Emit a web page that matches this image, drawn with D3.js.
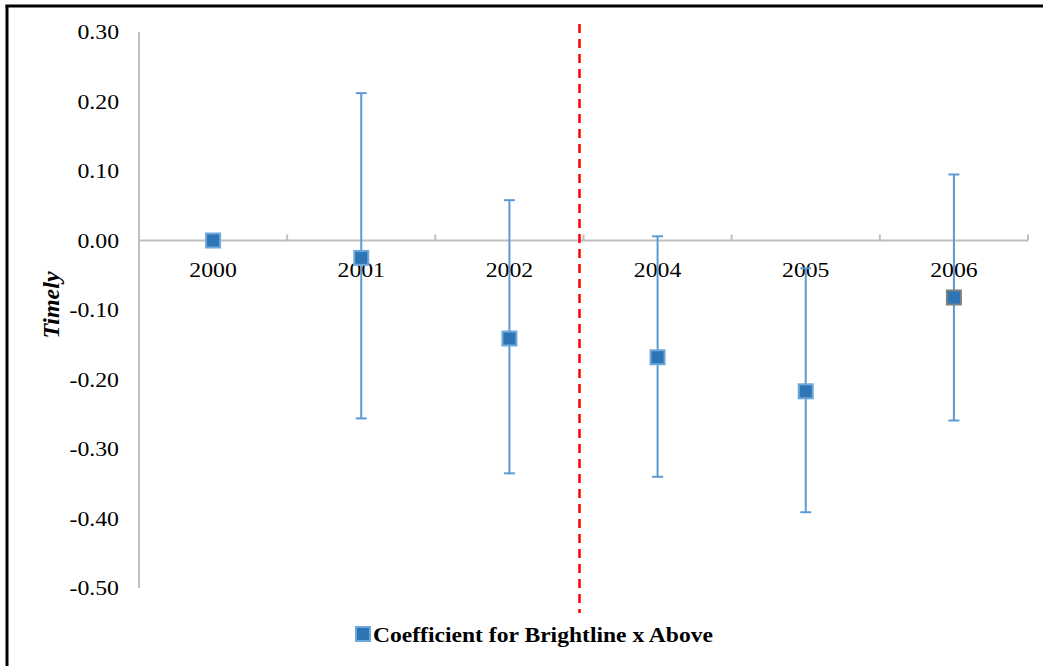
<!DOCTYPE html>
<html><head><meta charset="utf-8">
<script src="https://cdn.jsdelivr.net/npm/d3@7"></script>
<style>
html,body{margin:0;padding:0;background:#fff;}
svg{display:block;}
text{font-family:"Liberation Serif","Times New Roman",serif;}
</style></head>
<body>
<script>
const years = ["2000","2001","2002","2004","2005","2006"];
const coef  = [0.000, -0.025, -0.141, -0.168, -0.217, -0.082];
const upper = [0.000, 0.212, 0.058, 0.006, -0.040, 0.095];
const lower = [0.000, -0.256, -0.335, -0.340, -0.391, -0.259];
const yTicks = [0.30, 0.20, 0.10, 0.00, -0.10, -0.20, -0.30, -0.40, -0.50];
const seriesName = "Coefficient for Brightline x Above";
const markerStroke = ["#6fa8dc","#6fa8dc","#6fa8dc","#6fa8dc","#6fa8dc","#7f7f7f"];

(function(){
const W = 1043, H = 666;
const svg = d3.select("body").append("svg").attr("width", W).attr("height", H);

// frame (left & top visible)
svg.append("line").attr("x1",7).attr("x2",7).attr("y1",5).attr("y2",H).attr("stroke","#000").attr("stroke-width",3);
svg.append("line").attr("x1",5.5).attr("x2",W).attr("y1",6).attr("y2",6).attr("stroke","#000").attr("stroke-width",3);

const mLeft = 139, mRight = 1028, mTop = 32, mBottom = 588;
const x = d3.scaleBand().domain(years).range([mLeft, mRight]).padding(0);
const y = d3.scaleLinear().domain([-0.5, 0.3]).range([mBottom, mTop]);
const fmt = d => d3.format(".2f")(d).replace("\u2212","-");

// y axis
svg.append("line").attr("x1",mLeft).attr("x2",mLeft).attr("y1",y(0.3)).attr("y2",y(-0.5))
  .attr("stroke","#bfbfbf").attr("stroke-width",2);
svg.selectAll(".yl").data(yTicks).enter().append("text")
  .attr("transform", d=>`translate(${mLeft-20},${y(d)+7}) scale(1.08,1)`)
  .attr("text-anchor","end").attr("font-size",22).attr("fill","#000")
  .text(fmt);

// x axis at 0
svg.append("line").attr("x1",mLeft).attr("x2",mRight).attr("y1",y(0)).attr("y2",y(0))
  .attr("stroke","#bfbfbf").attr("stroke-width",2);
const bounds = years.map(d=>x(d)+x.bandwidth());
svg.selectAll(".xt").data(bounds).enter().append("line")
  .attr("x1",d=>d).attr("x2",d=>d).attr("y1",y(0)).attr("y2",y(0)-6)
  .attr("stroke","#bfbfbf").attr("stroke-width",2);
svg.selectAll(".xl").data(years).enter().append("text")
  .attr("transform", d=>`translate(${x(d)+x.bandwidth()/2},${y(0)+36}) scale(1.08,1)`)
  .attr("text-anchor","middle").attr("font-size",22).attr("fill","#000")
  .text(d=>d);

// red dashed line between 2002 and 2004
const vx = x("2004") - 4;
svg.append("line").attr("x1",vx).attr("x2",vx).attr("y1",24).attr("y2",613)
  .attr("stroke","#ff0000").attr("stroke-width",2.5).attr("stroke-dasharray","9,6");

// error bars
const g = svg.append("g");
years.forEach((yr,i)=>{
  if (upper[i] === lower[i]) return;
  const cx = x(yr)+x.bandwidth()/2;
  g.append("line").attr("x1",cx).attr("x2",cx).attr("y1",y(upper[i])).attr("y2",y(lower[i]))
    .attr("stroke","#5b9bd5").attr("stroke-width",2);
  [upper[i], lower[i]].forEach(v=>{
    g.append("line").attr("x1",cx-5.5).attr("x2",cx+5.5).attr("y1",y(v)).attr("y2",y(v))
      .attr("stroke","#5b9bd5").attr("stroke-width",2);
  });
});

// markers
const ms = 14;
svg.selectAll(".pt").data(years).enter().append("rect")
  .attr("x", d=>x(d)+x.bandwidth()/2-ms/2)
  .attr("y", (d,i)=>y(coef[i])-ms/2)
  .attr("width", ms).attr("height", ms)
  .attr("fill","#2e75b6").attr("stroke",(d,i)=>markerStroke[i]).attr("stroke-width",2);

// y title
svg.append("text").attr("transform","translate(59,305) rotate(-90)")
  .attr("text-anchor","middle").attr("font-size",24).attr("font-weight","bold").attr("font-style","italic")
  .text("Timely");

// legend
svg.append("rect").attr("x",356).attr("y",627).attr("width",14).attr("height",14)
  .attr("fill","#2e75b6").attr("stroke","#6fa8dc").attr("stroke-width",2);
svg.append("text").attr("x",373).attr("y",642).attr("font-size",21).attr("font-weight","bold")
  .attr("textLength",340).attr("lengthAdjust","spacingAndGlyphs")
  .text(seriesName);
})();
</script>
</body></html>
